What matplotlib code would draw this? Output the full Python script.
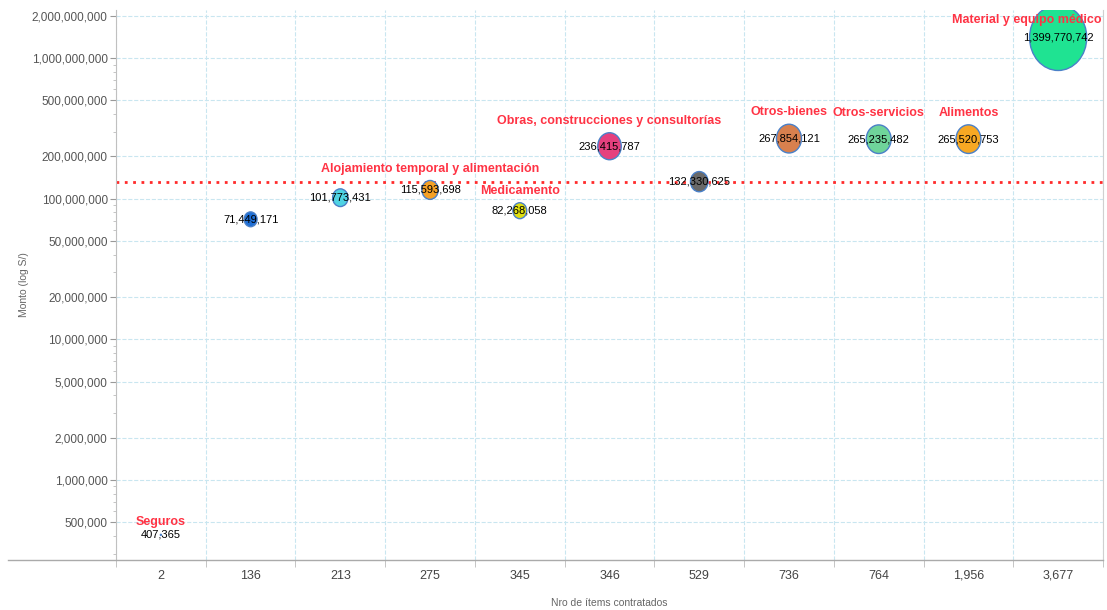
import numpy as np
import matplotlib.pyplot as plt
from matplotlib.path import Path
from matplotlib.ticker import LogLocator, FuncFormatter, FixedLocator, NullFormatter

plt.rcParams['font.family'] = ['Liberation Sans', 'DejaVu Sans']

items = [2, 136, 213, 275, 345, 346, 529, 736, 764, 1956, 3677]
montos = [407365, 71449171, 101773431, 115593698, 82268058, 236415787,
          132330625, 267854121, 265235482, 265520753, 1399770742]
nombres = ["Seguros", "", "", "Alojamiento temporal y alimentación", "Medicamento",
           "Obras, construcciones y consultorías", "", "Otros-bienes",
           "Otros-servicios", "Alimentos", "Material y equipo médico"]
colores = ["#3f7fd0", "#1e6fd6", "#4fd3e3", "#f5a024", "#dede10", "#e5407e",
           "#696969", "#d8804e", "#6fd49a", "#f7a823", "#1fe392"]

fig = plt.figure(figsize=(11.07, 6.10), dpi=100)
ax = fig.add_axes([0.1048, 0.082, 0.8916, 0.9016])

x = np.arange(len(items))
s = np.array(montos) * 1.6e-6

circ = Path.unit_circle()
oval = Path(circ.vertices * np.array([1.0, 1.15]), circ.codes)

ax.set_yscale('log')
ax.set_xlim(-0.5, len(items) - 0.5)
ax.set_ylim(2.7e5, 2.2e9)

# median reference line
ax.axhline(np.median(montos), color='#ff2a2a', ls=(0, (1, 2)), lw=2, zorder=2)

ax.scatter(x, montos, s=s, c=colores, marker=oval, edgecolors='#4a80c8',
           linewidths=1, zorder=3)

px = 100 / 72
top_px = ax.transAxes.transform((0, 1))[1]
etiquetas = []
for xi, m, si, nm in zip(x, montos, s, nombres):
    ax.text(xi, m, f"{m:,}", ha='center', va='center', fontsize=8,
            color='black', zorder=4)
    if nm:
        yd = ax.transData.transform((xi, m))[1]
        off = (np.sqrt(si) / 2 + 8.5) * px
        off = min(off, top_px - 10 - yd)
        t = ax.annotate(nm, (xi, m), xytext=(0, off / px), textcoords='offset points',
                        ha='center', va='center', fontsize=9, fontweight='bold',
                        color='#ff3344', zorder=4)
        etiquetas.append(t)

# y axis ticks
major = [5e5, 1e6, 2e6, 5e6, 1e7, 2e7, 5e7, 1e8, 2e8, 5e8, 1e9, 2e9]
ax.yaxis.set_major_locator(FixedLocator(major))
ax.yaxis.set_major_formatter(FuncFormatter(lambda v, p: f"{v:,.0f}"))
ax.yaxis.set_minor_locator(LogLocator(base=10, subs=(3, 4, 6, 7, 8, 9)))
ax.yaxis.set_minor_formatter(NullFormatter())
ax.tick_params(axis='y', which='major', length=4, color='#999999', pad=2,
               labelsize=8.5, labelcolor='#555555')
ax.tick_params(axis='y', which='minor', length=2.5, color='#bbbbbb')

# x axis categorical
ax.set_xticks(x)
ax.set_xticklabels([f"{v:,}" for v in items])
ax.set_xticks(np.arange(len(items) + 1) - 0.5, minor=True)
ax.tick_params(axis='x', which='major', length=0, pad=7, labelsize=9,
               labelcolor='#444444')
ax.tick_params(axis='x', which='minor', length=5, color='#bbbbbb')

ax.grid(True, axis='y', which='major', color='#c9e6f0', ls='--', lw=0.8)
ax.grid(True, axis='x', which='minor', color='#c9e6f0', ls='--', lw=0.8)
ax.set_axisbelow(True)

ax.spines['top'].set_visible(False)
ax.spines['left'].set_color('#c0c0c0')
ax.spines['right'].set_color('#d0d0d0')
ax.spines['bottom'].set_visible(False)
ax.plot([-0.109, 1], [0, 0], transform=ax.transAxes, color='#aaaaaa', lw=1,
        clip_on=False, zorder=5)

ax.set_ylabel("Monto (log S/)", fontsize=7.5, color='#666666', labelpad=2)
ax.set_xlabel("Nro de ítems contratados", fontsize=7.5, color='#666666', labelpad=12)

# keep name labels inside the figure
fig.canvas.draw()
r = fig.canvas.get_renderer()
for t in etiquetas:
    bb = t.get_window_extent(r)
    limite = fig.bbox.width - 6
    if bb.x1 > limite:
        dx, dy = t.get_position()
        t.set_position((dx - (bb.x1 - limite) / px, dy))

fig.savefig("out.png", dpi=100)
